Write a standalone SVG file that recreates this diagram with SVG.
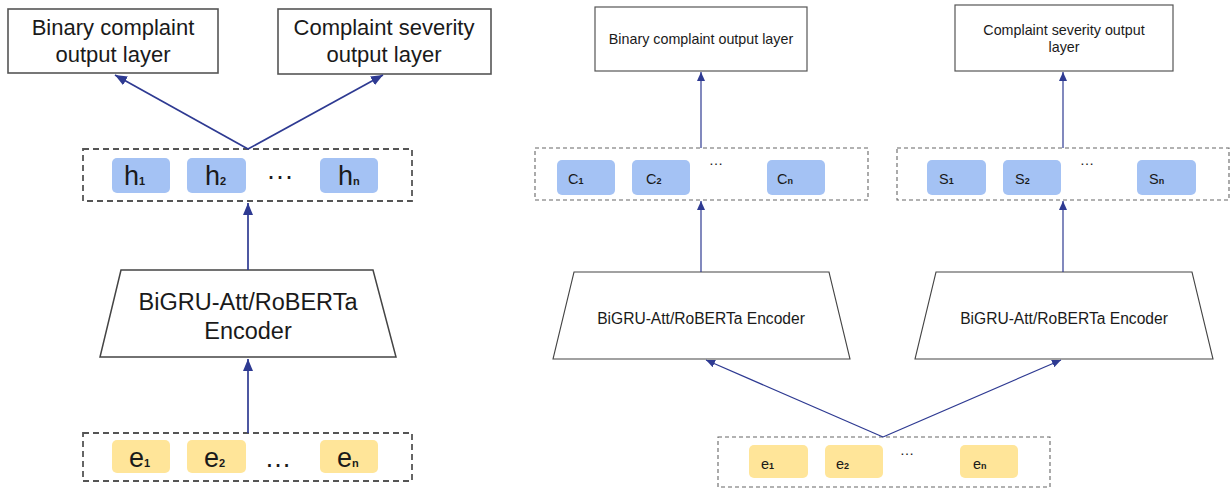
<svg xmlns="http://www.w3.org/2000/svg" width="1230" height="489" viewBox="0 0 1230 489">
<style>
  text { font-family: "Liberation Sans", Arial, sans-serif; fill: #1a1a1a; }
  .out { fill: #fff; stroke: #555; stroke-width: 1.6; }
  .outR { fill: #fff; stroke: #555; stroke-width: 1.2; }
  .trap { fill: #fff; stroke: #444; stroke-width: 1.5; }
  .trapR { fill: #fff; stroke: #444; stroke-width: 1.1; }
  .dash { fill: none; stroke: #555; stroke-width: 1.8; stroke-dasharray: 6 4; }
  .dashR { fill: none; stroke: #666; stroke-width: 1.1; stroke-dasharray: 4 3; }
  .blue { fill: #a4c2f4; }
  .yel { fill: #ffe599; }
  .big { font-size: 22px; }
  .enc { font-size: 23.5px; }
  .sm { font-size: 14.3px; }
  .encR { font-size: 15.6px; }
  .tok { font-size: 27px; }
  .tokR { font-size: 14.5px; }
  .sub { font-size: 11px; font-weight: 600; }
  .subR { font-size: 9px; font-weight: 600; }
  .conn { fill: none; stroke: #2e3a92; }
</style>
<defs>
  <marker id="ahL" markerUnits="userSpaceOnUse" markerWidth="12" markerHeight="10" refX="12" refY="5" orient="auto">
    <path d="M0,0 L12,5 L0,10 Z" fill="#2e3a92"/>
  </marker>
  <marker id="ahR" markerUnits="userSpaceOnUse" markerWidth="9" markerHeight="8" refX="9" refY="4" orient="auto">
    <path d="M0,0 L9,4 L0,8 Z" fill="#2e3a92"/>
  </marker>
</defs>

<!-- LEFT PANEL -->
<g id="left-binary-out">
  <rect class="out" x="8" y="9" width="210" height="64"/>
  <text class="big" x="113" y="35" text-anchor="middle">Binary complaint</text>
  <text class="big" x="113" y="62" text-anchor="middle">output layer</text>
</g>
<g id="left-severity-out">
  <rect class="out" x="278" y="9" width="213" height="65"/>
  <text class="big" x="384" y="35" text-anchor="middle">Complaint severity</text>
  <text class="big" x="384" y="62" text-anchor="middle">output layer</text>
</g>
<g id="left-h">
  <rect class="dash" x="83" y="149" width="329" height="52"/>
  <rect class="blue" x="112" y="158" width="58" height="35" rx="5"/>
  <rect class="blue" x="187" y="158" width="59" height="35" rx="5"/>
  <rect class="blue" x="320" y="158" width="58" height="35" rx="5"/>
  <text class="tok" x="124" y="185">h<tspan class="sub">1</tspan></text>
  <text class="tok" x="205" y="185">h<tspan class="sub">2</tspan></text>
  <text class="tok" x="338" y="185">h<tspan class="sub">n</tspan></text>
  <text class="tok" x="280" y="185" text-anchor="middle">···</text>
</g>
<g id="left-encoder">
  <polygon class="trap" points="121,270 373,270 396,357 100,357"/>
  <text class="enc" x="248" y="310" text-anchor="middle">BiGRU-Att/RoBERTa</text>
  <text class="enc" x="248" y="339" text-anchor="middle">Encoder</text>
</g>
<g id="left-e">
  <rect class="dash" x="83" y="433" width="329" height="48"/>
  <rect class="yel" x="112" y="440" width="58" height="33" rx="5"/>
  <rect class="yel" x="187" y="440" width="59" height="33" rx="5"/>
  <rect class="yel" x="320" y="440" width="58" height="33" rx="5"/>
  <text class="tok" x="129" y="467">e<tspan class="sub">1</tspan></text>
  <text class="tok" x="204" y="467">e<tspan class="sub">2</tspan></text>
  <text class="tok" x="337" y="467">e<tspan class="sub">n</tspan></text>
  <text class="tok" x="278" y="467" text-anchor="middle">…</text>
</g>

<!-- RIGHT PANEL -->
<g id="right-binary-out">
  <rect class="outR" x="595" y="7" width="212" height="64"/>
  <text class="sm" x="701" y="44" text-anchor="middle">Binary complaint output layer</text>
</g>
<g id="right-severity-out">
  <rect class="outR" x="955" y="5" width="218" height="66"/>
  <text class="sm" x="1064" y="35" text-anchor="middle">Complaint severity output</text>
  <text class="sm" x="1064" y="52" text-anchor="middle">layer</text>
</g>
<g id="right-c">
  <rect class="dashR" x="535" y="148" width="333" height="52"/>
  <rect class="blue" x="557" y="160" width="58" height="35" rx="5"/>
  <rect class="blue" x="632" y="160" width="58" height="35" rx="5"/>
  <rect class="blue" x="767" y="160" width="58" height="35" rx="5"/>
  <text class="tokR" x="568" y="184">C<tspan class="subR">1</tspan></text>
  <text class="tokR" x="646" y="184">C<tspan class="subR">2</tspan></text>
  <text class="tokR" x="777" y="184">C<tspan class="subR">n</tspan></text>
  <text class="tokR" x="716" y="165" text-anchor="middle">…</text>
</g>
<g id="right-s">
  <rect class="dashR" x="897" y="148" width="332" height="52"/>
  <rect class="blue" x="927" y="160" width="59" height="35" rx="5"/>
  <rect class="blue" x="1003" y="160" width="58" height="35" rx="5"/>
  <rect class="blue" x="1137" y="160" width="59" height="35" rx="5"/>
  <text class="tokR" x="939" y="184">S<tspan class="subR">1</tspan></text>
  <text class="tokR" x="1015" y="184">S<tspan class="subR">2</tspan></text>
  <text class="tokR" x="1149" y="184">S<tspan class="subR">n</tspan></text>
  <text class="tokR" x="1087" y="165" text-anchor="middle">…</text>
</g>
<g id="right-encoder-1">
  <polygon class="trapR" points="574,272 829,272 850,359 553,359"/>
  <text class="encR" x="701" y="324" text-anchor="middle">BiGRU-Att/RoBERTa Encoder</text>
</g>
<g id="right-encoder-2">
  <polygon class="trapR" points="936,272 1192,272 1213,359 915,359"/>
  <text class="encR" x="1064" y="324" text-anchor="middle">BiGRU-Att/RoBERTa Encoder</text>
</g>
<g id="right-e">
  <rect class="dashR" x="718" y="437" width="332" height="50"/>
  <rect class="yel" x="749" y="445" width="59" height="33" rx="5"/>
  <rect class="yel" x="825" y="445" width="58" height="33" rx="5"/>
  <rect class="yel" x="960" y="445" width="58" height="33" rx="5"/>
  <text class="tokR" x="761" y="469">e<tspan class="subR">1</tspan></text>
  <text class="tokR" x="836" y="469">e<tspan class="subR">2</tspan></text>
  <text class="tokR" x="973" y="469">e<tspan class="subR">n</tspan></text>
  <text class="tokR" x="907" y="455" text-anchor="middle">…</text>
</g>

<g id="connectors">
  <line class="conn" stroke-width="1.7" x1="248" y1="149" x2="115" y2="75" marker-end="url(#ahL)"/>
  <line class="conn" stroke-width="1.7" x1="248" y1="149" x2="383" y2="75" marker-end="url(#ahL)"/>
  <line class="conn" stroke-width="1.7" x1="248" y1="270" x2="248" y2="203" marker-end="url(#ahL)"/>
  <line class="conn" stroke-width="1.7" x1="248" y1="433" x2="248" y2="359" marker-end="url(#ahL)"/>
  <line class="conn" stroke-width="1.2" x1="701" y1="148" x2="701" y2="72" marker-end="url(#ahR)"/>
  <line class="conn" stroke-width="1.2" x1="1063" y1="148" x2="1063" y2="72" marker-end="url(#ahR)"/>
  <line class="conn" stroke-width="1.2" x1="701" y1="272" x2="701" y2="201" marker-end="url(#ahR)"/>
  <line class="conn" stroke-width="1.2" x1="1063" y1="272" x2="1063" y2="201" marker-end="url(#ahR)"/>
  <line class="conn" stroke-width="1.2" x1="883" y1="437" x2="706" y2="360" marker-end="url(#ahR)"/>
  <line class="conn" stroke-width="1.2" x1="883" y1="437" x2="1061" y2="360" marker-end="url(#ahR)"/>
</g>
</svg>
